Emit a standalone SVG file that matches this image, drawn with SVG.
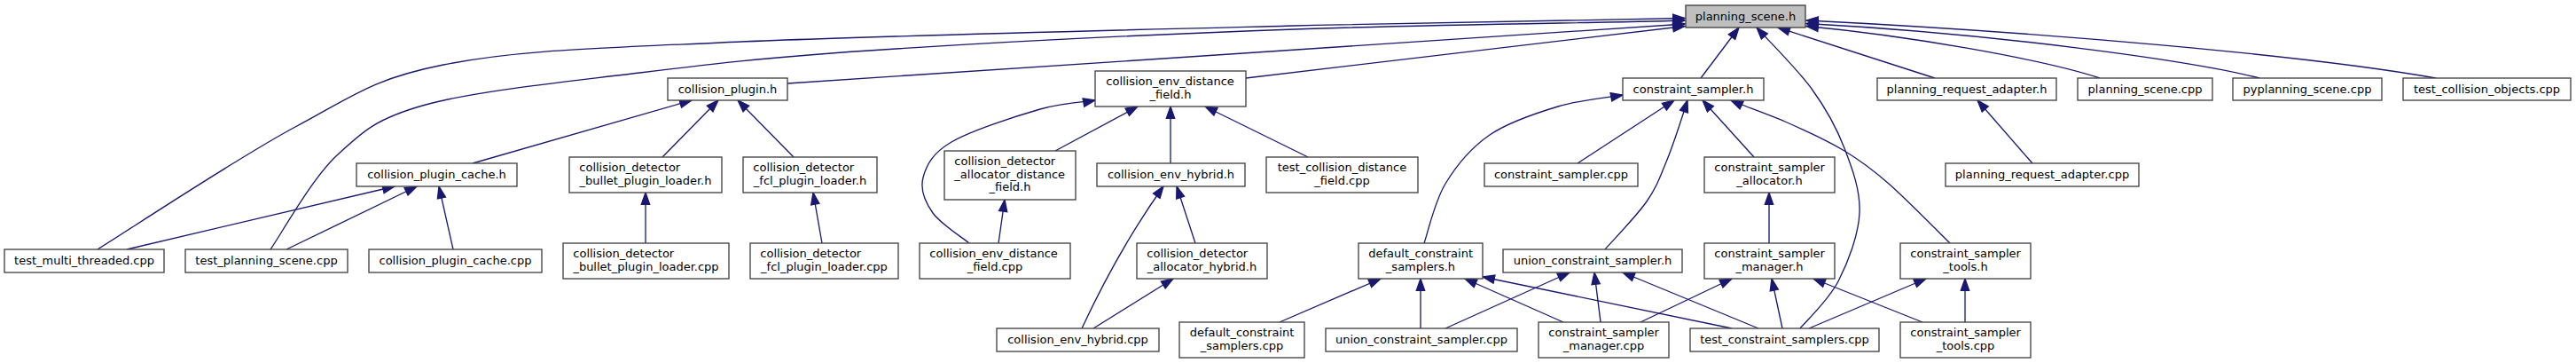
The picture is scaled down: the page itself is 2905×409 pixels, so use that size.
<svg xmlns="http://www.w3.org/2000/svg" width="2905" height="409" viewBox="0 0 2905 409">
<style>
.n{fill:#ffffff;stroke:#404040;stroke-width:1.33}
.r{fill:#bfbfbf;stroke:#404040;stroke-width:1.33}
text{font-family:"DejaVu Sans","Liberation Sans",sans-serif;font-size:13px;fill:#000}
.m{text-anchor:middle}
.e{fill:none;stroke:#191970;stroke-width:1.33;marker-end:url(#a)}
</style>
<defs>
<marker id="a" markerUnits="userSpaceOnUse" markerWidth="16" markerHeight="12" viewBox="-1 -6 16 12" refX="13.3" refY="0" orient="auto">
<path d="M0,-4.67 L13.3,0 L0,4.67 Z" fill="#191970" stroke="#191970" stroke-width="1.33"/>
</marker>
</defs>
<rect width="2905" height="409" fill="#fff"/>
<g id="edges">
<path class="e" d="M110,281 C147,258 268,177.7 333,143 C398,108.3 420,88.8 500,73 C580,57.2 653,55.3 813,48 C973,40.7 1279,33.5 1460,29 C1641,24.5 1827,22.3 1900,20.5"/>
<path class="e" d="M305,281 C317.5,263.3 350.8,202.2 380,175 C409.2,147.8 424.5,133.3 480,118 C535.5,102.7 629.7,93.2 713,83 C796.3,72.8 855.5,65.3 980,57 C1104.5,48.7 1306.7,38.5 1460,33 C1613.3,27.5 1826.7,25.5 1900,23"/>
<path class="e" d="M888,94 L1900,27"/>
<path class="e" d="M1405,88 L1900,29.5"/>
<path class="e" d="M1918,88 L1961,31"/>
<path class="e" d="M2030,370 C2037.2,361.2 2061.8,338.7 2073,317 C2084.2,295.3 2095.8,265 2097,240 C2098.2,215 2089,190.3 2080,167 C2071,143.7 2059.5,122.7 2043,100 C2026.5,77.3 1991.3,42.5 1981,31"/>
<path class="e" d="M2182,88 L2005,31"/>
<path class="e" d="M2368,88 C2300,66 2150,40 2037,29.5"/>
<path class="e" d="M2548,88 C2470,68 2250,38 2037,26.5"/>
<path class="e" d="M2747,88 C2600,62 2300,36 2037,23"/>
<path class="e" d="M533,184 L780,113"/>
<path class="e" d="M747,177 L810,113"/>
<path class="e" d="M895,177 L832,113"/>
<path class="e" d="M143,281 L445,210"/>
<path class="e" d="M323,281 L470,210"/>
<path class="e" d="M511,281 L495,210"/>
<path class="e" d="M728,274 L728,217"/>
<path class="e" d="M927,274 L917,217"/>
<path class="e" d="M1190,170 L1283,120"/>
<path class="e" d="M1320,184 L1320,120"/>
<path class="e" d="M1475,177 L1359,120"/>
<path class="e" d="M1093,274 C1086.2,268.3 1060.7,252.3 1052,240 C1043.3,227.7 1037.5,213.3 1041,200 C1044.5,186.7 1051,172.8 1073,160 C1095,147.2 1145.7,130.8 1173,123 C1200.3,115.2 1226.3,114.7 1235,113"/>
<path class="e" d="M1126,274 L1133,225"/>
<path class="e" d="M1220,370 Q1262,280 1312,210"/>
<path class="e" d="M1348,274 L1327,210"/>
<path class="e" d="M1233,370 L1323,314"/>
<path class="e" d="M1606,274 C1610,262.8 1617.7,227.3 1630,207 C1642.3,186.7 1658.8,166.5 1680,152 C1701.2,137.5 1732,127.5 1757,120 C1782,112.5 1817.8,109.2 1830,107"/>
<path class="e" d="M1779,184 L1888,113"/>
<path class="e" d="M1810,281 C1817.8,272 1845.3,243.8 1857,227 C1868.7,210.2 1872.3,198.8 1880,180 C1887.7,161.2 1899.2,125 1903,113"/>
<path class="e" d="M1978,177 L1920,113"/>
<path class="e" d="M2199,274 C2187.5,262.8 2149.8,224.3 2130,207 C2110.2,189.7 2099.5,181.7 2080,170 C2060.5,158.3 2034.3,146.3 2013,137 C1991.7,127.7 1962.2,117.8 1952,113"/>
<path class="e" d="M1995,274 L1995,217"/>
<path class="e" d="M2292,184 L2230,113"/>
<path class="e" d="M1443,363 L1557,314"/>
<path class="e" d="M1602,370 L1602,314"/>
<path class="e" d="M1763,363 L1652,314"/>
<path class="e" d="M1953,370 L1672,312"/>
<path class="e" d="M1630,370 L1770,307"/>
<path class="e" d="M1805,363 L1798,307"/>
<path class="e" d="M1983,370 L1830,307"/>
<path class="e" d="M1850,363 L1953,314"/>
<path class="e" d="M2010,370 L1998,314"/>
<path class="e" d="M2168,363 L2045,314"/>
<path class="e" d="M2040,370 L2172,314"/>
<path class="e" d="M2216,363 L2216,314"/>
</g>
<g id="planning_scene_h"><rect class="r" x="1901" y="6" width="135" height="25"/><text class="m" x="1968.5" y="22.5">planning_scene.h</text></g>
<g id="test_multi_threaded_cpp"><rect class="n" x="5" y="281" width="180" height="26"/><text class="m" x="95" y="297.5">test_multi_threaded.cpp</text></g>
<g id="test_planning_scene_cpp"><rect class="n" x="209" y="281" width="183" height="26"/><text class="m" x="300.5" y="297.5">test_planning_scene.cpp</text></g>
<g id="collision_plugin_h"><rect class="n" x="753" y="88" width="135" height="25"/><text class="m" x="820.5" y="104.5">collision_plugin.h</text></g>
<g id="collision_plugin_cache_h"><rect class="n" x="402" y="184" width="181" height="26"/><text class="m" x="492.5" y="200.5">collision_plugin_cache.h</text></g>
<g id="collision_plugin_cache_cpp"><rect class="n" x="416" y="281" width="195" height="26"/><text class="m" x="513.5" y="297.5">collision_plugin_cache.cpp</text></g>
<g id="collision_detector_bullet_plugin_loader_h"><rect class="n" x="642" y="177" width="172" height="40"/><text x="653.3" y="193">collision_detector</text><text class="m" x="728" y="208">_bullet_plugin_loader.h</text></g>
<g id="collision_detector_fcl_plugin_loader_h"><rect class="n" x="838" y="177" width="151" height="40"/><text x="849.3" y="193">collision_detector</text><text class="m" x="913.5" y="208">_fcl_plugin_loader.h</text></g>
<g id="collision_detector_bullet_plugin_loader_cpp"><rect class="n" x="635" y="274" width="187" height="40"/><text x="646.3" y="290">collision_detector</text><text class="m" x="728.5" y="305">_bullet_plugin_loader.cpp</text></g>
<g id="collision_detector_fcl_plugin_loader_cpp"><rect class="n" x="846" y="274" width="167" height="40"/><text x="857.3" y="290">collision_detector</text><text class="m" x="929.5" y="305">_fcl_plugin_loader.cpp</text></g>
<g id="collision_env_distance_field_h"><rect class="n" x="1235" y="80" width="170" height="40"/><text x="1247.3" y="96">collision_env_distance</text><text class="m" x="1320" y="111">_field.h</text></g>
<g id="collision_detector_allocator_distance_field_h"><rect class="n" x="1065" y="170" width="148" height="55"/><text x="1076.3" y="186">collision_detector</text><text x="1076.3" y="200.5">_allocator_distance</text><text class="m" x="1139" y="215">_field.h</text></g>
<g id="collision_env_hybrid_h"><rect class="n" x="1237" y="184" width="167" height="26"/><text class="m" x="1320.5" y="200.5">collision_env_hybrid.h</text></g>
<g id="test_collision_distance_field_cpp"><rect class="n" x="1428" y="177" width="171" height="40"/><text x="1440.7" y="193">test_collision_distance</text><text class="m" x="1513.5" y="208">_field.cpp</text></g>
<g id="collision_env_distance_field_cpp"><rect class="n" x="1037" y="274" width="170" height="40"/><text x="1048.3" y="290">collision_env_distance</text><text class="m" x="1122" y="305">_field.cpp</text></g>
<g id="collision_detector_allocator_hybrid_h"><rect class="n" x="1282" y="274" width="147" height="40"/><text x="1293.3" y="290">collision_detector</text><text class="m" x="1355.5" y="305">_allocator_hybrid.h</text></g>
<g id="collision_env_hybrid_cpp"><rect class="n" x="1124" y="370" width="183" height="26"/><text class="m" x="1215.5" y="386.5">collision_env_hybrid.cpp</text></g>
<g id="default_constraint_samplers_cpp"><rect class="n" x="1330" y="363" width="141" height="40"/><text x="1341.7" y="379">default_constraint</text><text class="m" x="1400.5" y="394">_samplers.cpp</text></g>
<g id="constraint_sampler_h"><rect class="n" x="1830" y="88" width="159" height="25"/><text class="m" x="1909.5" y="104.5">constraint_sampler.h</text></g>
<g id="constraint_sampler_cpp"><rect class="n" x="1674" y="184" width="173" height="26"/><text class="m" x="1760.5" y="200.5">constraint_sampler.cpp</text></g>
<g id="constraint_sampler_allocator_h"><rect class="n" x="1922" y="177" width="147" height="40"/><text x="1933.3" y="193">constraint_sampler</text><text class="m" x="1995.5" y="208">_allocator.h</text></g>
<g id="default_constraint_samplers_h"><rect class="n" x="1532" y="274" width="140" height="40"/><text x="1543.3" y="290">default_constraint</text><text class="m" x="1602" y="305">_samplers.h</text></g>
<g id="union_constraint_sampler_h"><rect class="n" x="1695" y="281" width="202" height="26"/><text class="m" x="1796" y="297.5">union_constraint_sampler.h</text></g>
<g id="constraint_sampler_manager_h"><rect class="n" x="1922" y="274" width="147" height="40"/><text x="1933.3" y="290">constraint_sampler</text><text class="m" x="1995.5" y="305">_manager.h</text></g>
<g id="union_constraint_sampler_cpp"><rect class="n" x="1495" y="370" width="216" height="26"/><text class="m" x="1603" y="386.5">union_constraint_sampler.cpp</text></g>
<g id="constraint_sampler_manager_cpp"><rect class="n" x="1735" y="363" width="147" height="40"/><text x="1746.3" y="379">constraint_sampler</text><text class="m" x="1808.5" y="394">_manager.cpp</text></g>
<g id="test_constraint_samplers_cpp"><rect class="n" x="1906" y="370" width="213" height="26"/><text class="m" x="2012.5" y="386.5">test_constraint_samplers.cpp</text></g>
<g id="planning_request_adapter_h"><rect class="n" x="2117" y="88" width="202" height="25"/><text class="m" x="2218" y="104.5">planning_request_adapter.h</text></g>
<g id="planning_scene_cpp"><rect class="n" x="2343" y="88" width="152" height="25"/><text class="m" x="2419" y="104.5">planning_scene.cpp</text></g>
<g id="pyplanning_scene_cpp"><rect class="n" x="2518" y="88" width="168" height="25"/><text class="m" x="2602" y="104.5">pyplanning_scene.cpp</text></g>
<g id="test_collision_objects_cpp"><rect class="n" x="2710" y="88" width="189" height="25"/><text class="m" x="2804.5" y="104.5">test_collision_objects.cpp</text></g>
<g id="planning_request_adapter_cpp"><rect class="n" x="2194" y="184" width="218" height="26"/><text class="m" x="2303" y="200.5">planning_request_adapter.cpp</text></g>
<g id="constraint_sampler_tools_h"><rect class="n" x="2143" y="274" width="147" height="40"/><text x="2154.3" y="290">constraint_sampler</text><text class="m" x="2216.5" y="305">_tools.h</text></g>
<g id="constraint_sampler_tools_cpp"><rect class="n" x="2143" y="363" width="147" height="40"/><text x="2154.3" y="379">constraint_sampler</text><text class="m" x="2216.5" y="394">_tools.cpp</text></g>
</svg>
